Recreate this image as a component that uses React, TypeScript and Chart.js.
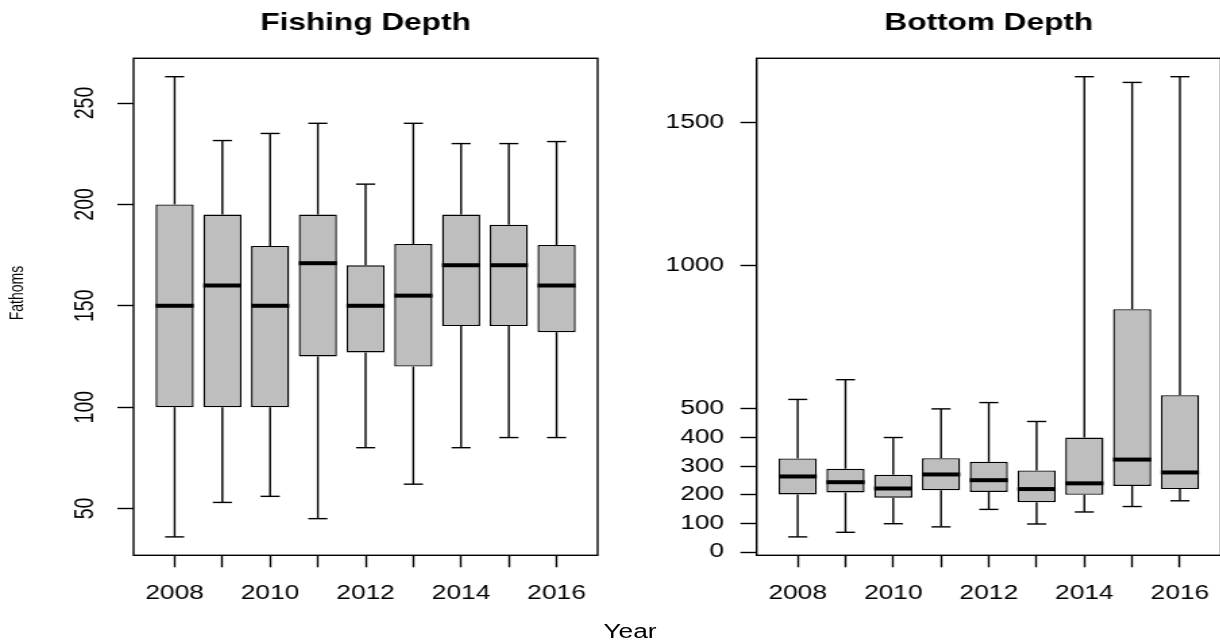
import React, { useEffect, useRef } from "react";
import { Chart, registerables } from "chart.js";

Chart.register(...registerables);

// ---- data -------------------------------------------------------------
const years = ["2008", "2009", "2010", "2011", "2012", "2013", "2014", "2015", "2016"];

// Fishing depth (fathoms): whisker ends, quartiles and medians per year
const fishLow = [36, 53, 56, 45, 80, 62, 80, 85, 85];
const fishQ1 = [100, 100, 100, 125, 127, 120, 140, 140, 137];
const fishMed = [150, 160, 150, 171, 150, 155, 170, 170, 160];
const fishQ3 = [200, 195, 179.5, 195, 170, 180.5, 195, 190, 180];
const fishHigh = [263, 231.5, 235, 240, 210, 240, 230, 230, 231];

// Bottom depth (fathoms)
const bottomLow = [53, 69, 99, 88, 149, 98, 140, 159, 179];
const bottomQ1 = [201, 208, 190, 216, 210, 174, 200, 231, 220];
const bottomMed = [264, 244, 222, 271, 251, 220, 240, 323, 278];
const bottomQ3 = [327, 291, 270, 328, 315, 285, 400, 848, 548];
const bottomHigh = [533, 602, 400, 500, 522, 456, 1660, 1640, 1660];

const fishTicks = [50, 100, 150, 200, 250];
const bottomTicks = [0, 100, 200, 300, 400, 500, 1000, 1500];

// ---- drawing constants ---------------------------------------------------
const SX = 1.35; // horizontal stretch applied to each canvas via CSS
const CW = 467; // canvas drawing width (before stretch)
const CH = 643;
const FONT = "'Liberation Sans', Arial, Helvetica, sans-serif";
const TICK_FONT = 19.5;
const LW = 1.4;

type Stats = { low: number[]; q1: number[]; med: number[]; q3: number[]; high: number[] };

// whiskers, staples, medians and the plot frame
const boxPlotPlugin = {
  id: "boxWhiskers",
  afterDatasetsDraw(chart: any, _args: any, opts: any) {
    const st: Stats = opts.stats;
    if (!st) return;
    const { ctx, chartArea } = chart;
    const x = chart.scales.x;
    const y = chart.scales.y;
    const meta = chart.getDatasetMeta(0);
    ctx.save();
    ctx.strokeStyle = "#000";
    ctx.lineCap = "butt";
    const line = (x1: number, y1: number, x2: number, y2: number) => {
      ctx.beginPath();
      ctx.moveTo(x1, y1);
      ctx.lineTo(x2, y2);
      ctx.stroke();
    };
    st.low.forEach((_, i) => {
      const cx = x.getPixelForValue(i + 1);
      const staple = x.getPixelForValue(i + 1.2) - cx;
      ctx.lineWidth = LW;
      line(cx, y.getPixelForValue(st.high[i]), cx, y.getPixelForValue(st.q3[i]));
      line(cx, y.getPixelForValue(st.q1[i]), cx, y.getPixelForValue(st.low[i]));
      line(cx - staple, y.getPixelForValue(st.high[i]), cx + staple, y.getPixelForValue(st.high[i]));
      line(cx - staple, y.getPixelForValue(st.low[i]), cx + staple, y.getPixelForValue(st.low[i]));
      const el = meta.data[i];
      const half = el.width / 2;
      ctx.lineWidth = 4;
      const my = y.getPixelForValue(st.med[i]);
      line(el.x - half, my, el.x + half, my);
    });
    ctx.lineWidth = LW;
    ctx.strokeRect(chartArea.left, chartArea.top, chartArea.right - chartArea.left, chartArea.bottom - chartArea.top);
    ctx.restore();
  },
};

// rotated y tick labels and the outer "Fathoms" label for the left panel
const rotatedLabelsPlugin = {
  id: "rotatedLabels",
  afterDraw(chart: any, _args: any, opts: any) {
    if (!opts.ticks) return;
    const { ctx } = chart;
    const y = chart.scales.y;
    ctx.save();
    ctx.fillStyle = "#000";
    ctx.textAlign = "center";
    ctx.textBaseline = "alphabetic";
    ctx.font = `${TICK_FONT}px ${FONT}`;
    opts.ticks.forEach((v: number) => {
      ctx.save();
      ctx.translate(opts.labelX, y.getPixelForValue(v));
      ctx.rotate(-Math.PI / 2);
      ctx.fillText(String(v), 0, 0);
      ctx.restore();
    });
    if (opts.axisTitle) {
      ctx.font = `14px ${FONT}`;
      ctx.translate(opts.axisTitle.x, opts.axisTitle.y);
      ctx.rotate(-Math.PI / 2);
      ctx.fillText(opts.axisTitle.text, 0, 0);
    }
    ctx.restore();
  },
};

function makeConfig(
  title: string,
  st: Stats,
  yTicks: number[],
  axisWidth: number,
  rightPad: number,
  rotated: boolean
): any {
  const all = [...st.low, ...st.high];
  const dMin = Math.min(...all);
  const dMax = Math.max(...all);
  const ext = (dMax - dMin) * 0.04;
  return {
    type: "bar",
    data: {
      datasets: [
        {
          data: years.map((_, i) => ({ x: i + 1, y: [st.q1[i], st.q3[i]] })),
          backgroundColor: "#BEBEBE",
          borderColor: "#000",
          borderWidth: LW,
          borderSkipped: false,
          barPercentage: 0.8,
          categoryPercentage: 1,
        },
      ],
    },
    plugins: [boxPlotPlugin, rotatedLabelsPlugin],
    options: {
      responsive: false,
      animation: false,
      devicePixelRatio: 1,
      layout: { padding: { left: 0, right: rightPad, top: 0, bottom: 0 } },
      plugins: {
        legend: { display: false },
        tooltip: { enabled: false },
        title: {
          display: true,
          text: title,
          fullSize: false,
          color: "#000",
          font: { family: FONT, size: 23.4, weight: "bold" },
          padding: { top: 9.3, bottom: 20.9 },
        },
        boxWhiskers: { stats: st },
        rotatedLabels: rotated
          ? { ticks: yTicks, labelX: 69.1, axisTitle: { text: "Fathoms", x: 17.3, y: 293 } }
          : {},
      },
      scales: {
        x: {
          type: "linear",
          offset: false,
          min: 0.5 - 0.36,
          max: years.length + 0.5 + 0.36,
          afterBuildTicks: (s: any) => {
            s.ticks = years.map((_, i) => ({ value: i + 1 }));
          },
          afterFit: (s: any) => {
            s.height = CH - 555.3;
          },
          ticks: {
            autoSkip: false,
            maxRotation: 0,
            minRotation: 0,
            padding: 14.9,
            color: "#000",
            font: { family: FONT, size: TICK_FONT },
            callback: (v: number) => ((v - 1) % 2 === 0 ? years[v - 1] : ""),
          },
          grid: {
            display: true,
            offset: false,
            drawOnChartArea: false,
            drawTicks: true,
            tickLength: 12,
            tickWidth: LW,
            tickColor: "#000",
          },
          border: { display: false },
        },
        y: {
          type: "linear",
          min: dMin - ext,
          max: dMax + ext,
          afterBuildTicks: (s: any) => {
            s.ticks = yTicks.map((v) => ({ value: v }));
          },
          afterFit: (s: any) => {
            s.width = axisWidth;
          },
          ticks: {
            display: !rotated,
            autoSkip: false,
            padding: 12,
            color: "#000",
            font: { family: FONT, size: TICK_FONT },
            callback: (v: number) => String(v),
          },
          grid: {
            display: true,
            drawOnChartArea: false,
            drawTicks: true,
            tickLength: 12,
            tickWidth: LW,
            tickColor: "#000",
          },
          border: { display: false },
        },
      },
    },
  };
}

const fishStats: Stats = { low: fishLow, q1: fishQ1, med: fishMed, q3: fishQ3, high: fishHigh };
const bottomStats: Stats = { low: bottomLow, q1: bottomQ1, med: bottomMed, q3: bottomQ3, high: bottomHigh };

export default function App() {
  const leftRef = useRef<HTMLCanvasElement>(null);
  const rightRef = useRef<HTMLCanvasElement>(null);

  useEffect(() => {
    const left = new Chart(
      leftRef.current as HTMLCanvasElement,
      makeConfig("Fishing Depth", fishStats, fishTicks, 99, 24, true)
    );
    const right = new Chart(
      rightRef.current as HTMLCanvasElement,
      makeConfig("Bottom Depth", bottomStats, bottomTicks, 93.7, 29.6, false)
    );
    return () => {
      left.destroy();
      right.destroy();
    };
  }, []);

  const canvasStyle = (left: number): React.CSSProperties => ({
    position: "absolute",
    left,
    top: 0,
    width: `${CW * SX}px`,
    height: `${CH}px`,
  });

  return (
    <div
      style={{
        position: "fixed",
        left: 0,
        top: 0,
        width: 1220,
        height: 643,
        overflow: "hidden",
        background: "#fff",
      }}
    >
      <canvas ref={leftRef} width={CW} height={CH} style={canvasStyle(0)} />
      <canvas ref={rightRef} width={CW} height={CH} style={canvasStyle(CW * SX)} />
      <div
        style={{
          position: "absolute",
          left: CW * SX,
          top: 620.2,
          fontFamily: FONT,
          fontSize: `${TICK_FONT}px`,
          lineHeight: "22px",
          color: "#000",
          whiteSpace: "nowrap",
          transform: `translateX(-50%) scaleX(${SX})`,
        }}
      >
        Year
      </div>
    </div>
  );
}
